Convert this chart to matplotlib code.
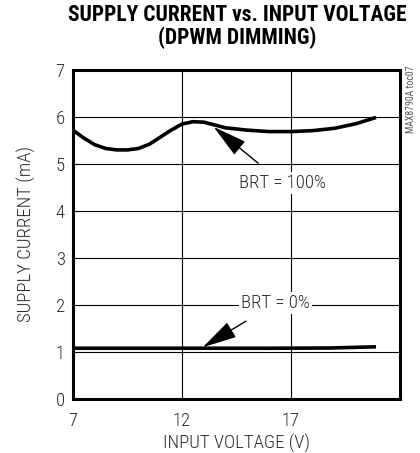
import matplotlib
matplotlib.use("Agg")
import matplotlib.pyplot as plt

# Data
v_100 = [7.0, 7.5, 8.0, 8.5, 9.0, 9.5, 10.0, 10.5, 11.0, 11.5, 12.0, 12.5, 13.0,
         13.5, 14.0, 15.0, 16.0, 17.0, 18.0, 19.0, 20.0, 20.9]
i_100 = [5.72, 5.55, 5.41, 5.33, 5.30, 5.30, 5.33, 5.42, 5.57, 5.72, 5.85, 5.90, 5.89,
         5.83, 5.77, 5.72, 5.69, 5.69, 5.71, 5.76, 5.86, 5.99]
v_0 = [7.0, 10.0, 13.0, 16.0, 18.8, 20.0, 20.9]
i_0 = [1.08, 1.08, 1.08, 1.08, 1.085, 1.10, 1.11]

x_ticks = [7, 12, 17]
y_ticks = [0, 1, 2, 3, 4, 5, 6, 7]

FONT = ["Roboto Condensed", "DejaVu Sans"]
TXT = "#2a2a2a"

fig = plt.figure(figsize=(4.20, 4.53), dpi=100)
ax = fig.add_axes([73/420, 1-399/453, (400-73)/420, (399-70)/453])

ax.set_xlim(7, 22)
ax.set_ylim(0, 7)
ax.set_xticks(x_ticks)
ax.set_yticks(y_ticks)
ax.grid(True, color="black", linewidth=0.8)
ax.set_axisbelow(True)
ax.tick_params(length=0, labelsize=13.5, colors=TXT)
ax.tick_params(axis="x", pad=9)
ax.tick_params(axis="y", pad=6)
for lab in ax.get_xticklabels() + ax.get_yticklabels():
    lab.set_fontfamily(FONT)
    lab.set_fontweight("light")
for s in ax.spines.values():
    s.set_linewidth(2.2)

ax.plot(v_100, i_100, color="black", linewidth=2.6, solid_capstyle="butt")
ax.plot(v_0, i_0, color="black", linewidth=2.6, solid_capstyle="butt")

arrow = dict(arrowstyle="-|>,head_length=1.6,head_width=0.4",
             color="black", lw=1.0, shrinkA=10, shrinkB=0)
box = dict(boxstyle="square,pad=0.1", fc="white", ec="none")
ax.annotate("BRT = 100%", xy=(13.45, 5.79), xytext=(16.6, 4.6),
            ha="center", va="center", fontsize=13.5, family=FONT, weight="light",
            color=TXT, arrowprops=arrow, bbox=box)
ax.annotate("BRT = 0%", xy=(12.95, 1.1), xytext=(16.3, 2.04),
            ha="center", va="center", fontsize=13.5, family=FONT, weight="light",
            color=TXT, arrowprops=arrow, bbox=box)

ax.set_xlabel("INPUT VOLTAGE (V)", family=FONT, weight="light", fontsize=13.5,
              color=TXT, labelpad=3)
ax.set_ylabel("SUPPLY CURRENT (mA)", family=FONT, weight="light", fontsize=13.5,
              color=TXT, labelpad=14)

fig.text(237/420, 1-15/453, "SUPPLY CURRENT vs. INPUT VOLTAGE", ha="center", va="center",
         family=FONT, fontweight="black", fontsize=15.5)
fig.text(237/420, 1-38/453, "(DPWM DIMMING)", ha="center", va="center",
         family=FONT, fontweight="black", fontsize=15.5)
fig.text(411/420, 1-65/453, "MAX8790A toc07", ha="center", va="top", rotation=90,
         family=FONT, fontsize=7, color="#555555")

fig.savefig("out.png", dpi=100)
